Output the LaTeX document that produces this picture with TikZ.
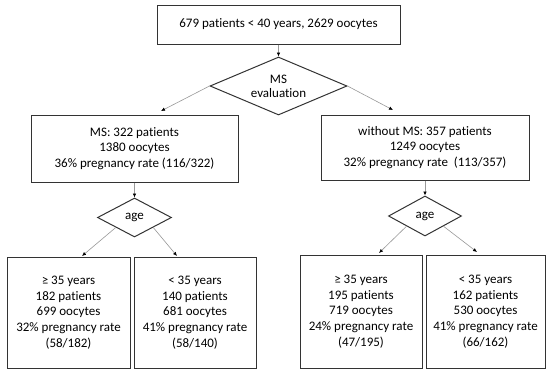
\documentclass[tikz,border=0pt]{standalone}
\usepackage{fontspec}
\setmainfont{Carlito}[Ligatures=NoCommon]
\usetikzlibrary{shapes.geometric,arrows.meta}
\begin{document}
\begin{tikzpicture}[x=1pt,y=-1pt,
  box/.style={draw=black!80,line width=1pt,rectangle,align=center,inner sep=0pt,
    font=\fontsize{13}{15.7}\selectfont},
  dia/.style={draw=black!80,line width=1pt,diamond,align=center,inner sep=0pt,
    font=\fontsize{13}{14}\selectfont},
  conn/.style={draw=black!40,line width=0.6pt,-{Latex[length=4pt,width=3.5pt,color=black]}}]
\useasboundingbox[fill=white] (0,0) rectangle (550,376);

\node[box,minimum width=243pt,minimum height=39pt] (top) at (278.5,24.5) {679 patients < 40 years, 2629 oocytes};
\node[dia,aspect=2.36,minimum width=137pt,minimum height=58pt] (ms) at (278.5,86) {MS\\evaluation};

\node[box,minimum width=207pt,minimum height=67pt] (midL) at (134.5,148.5) {MS: 322 patients\\1380 oocytes\\36\% pregnancy rate (116/322)};
\node[box,minimum width=208pt,minimum height=65pt] (midR) at (425,147.5) {without MS: 357 patients\\1249 oocytes\\32\% pregnancy rate \ (113/357)};

\node[dia,aspect=1.9,minimum width=74pt,minimum height=39pt] (ageL) at (134.5,217.5) {age};
\node[dia,aspect=1.9,minimum width=73pt,minimum height=40pt] (ageR) at (425,216) {age};

\node[box,minimum width=123pt,minimum height=111pt] (bL1) at (68.5,312.5) {≥ 35 years\\182 patients\\699 oocytes\\32\% pregnancy rate\\(58/182)};
\node[box,minimum width=122pt,minimum height=111pt] (bL2) at (195,312.5) {< 35 years\\140 patients\\681 oocytes\\41\% pregnancy rate\\(58/140)};
\node[box,minimum width=122pt,minimum height=113pt] (bR1) at (361,311.5) {≥ 35 years\\195 patients\\719 oocytes\\24\% pregnancy rate\\(47/195)};
\node[box,minimum width=119pt,minimum height=113pt] (bR2) at (485.5,311.5) {< 35 years\\162 patients\\530 oocytes\\41\% pregnancy rate\\(66/162)};

\coordinate (mL) at (161,111);
\coordinate (mR) at (393,110);
\coordinate (tL1) at (82,256);
\coordinate (tL2) at (177,256);
\coordinate (tR1) at (379,253);
\coordinate (tR2) at (477,252);

\draw[conn] (top.south) -- (ms.north);
\draw[conn] (ms.west) -- (mL);
\draw[conn] (ms.east) -- (mR);
\draw[conn] (midL.south) -- (ageL.north);
\draw[conn] (midR.south) -- (ageR.north);
\draw[conn] (ageL.south west) -- (tL1);
\draw[conn] (ageL.south east) -- (tL2);
\draw[conn] (ageR.south west) -- (tR1);
\draw[conn] (ageR.south east) -- (tR2);
\end{tikzpicture}
\end{document}
